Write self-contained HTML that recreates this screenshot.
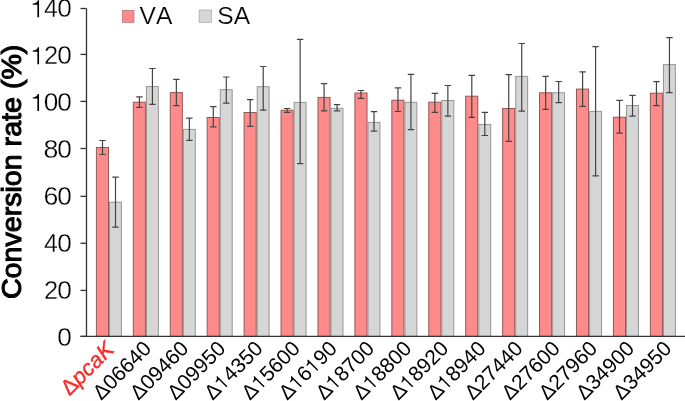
<!DOCTYPE html>
<html><head><meta charset="utf-8"><style>
html,body{margin:0;padding:0;background:#fff;width:685px;height:401px;overflow:hidden}
svg{display:block;will-change:transform}
text{font-family:"Liberation Sans",sans-serif}
.t{font-size:24px;fill:#000;stroke:#fff;stroke-width:0.2px}
.xl{font-size:21px;fill:#000}
.red{fill:#fa2a2a;font-size:22px;stroke:#fa2a2a;stroke-width:0.35px}
.h{fill:none;stroke:none}
.dg{font-size:25px;stroke-width:0.3px;stroke-linejoin:round}
.yt{font-size:28.5px;fill:#000;stroke:#000;stroke-width:1.1px}
</style></head><body>
<svg width="685" height="401" viewBox="0 0 685 401">
<rect x="96.40" y="147.50" width="12.10" height="188.90" fill="#ff8a8a" stroke="#8f5a5a" stroke-width="1"/>
<rect x="109.50" y="202.20" width="11.90" height="134.20" fill="#d6d6d6" stroke="#969696" stroke-width="1"/>
<rect x="133.33" y="102.20" width="12.10" height="234.20" fill="#ff8a8a" stroke="#8f5a5a" stroke-width="1"/>
<rect x="146.43" y="86.60" width="11.90" height="249.80" fill="#d6d6d6" stroke="#969696" stroke-width="1"/>
<rect x="170.26" y="92.60" width="12.10" height="243.80" fill="#ff8a8a" stroke="#8f5a5a" stroke-width="1"/>
<rect x="183.36" y="129.40" width="11.90" height="207.00" fill="#d6d6d6" stroke="#969696" stroke-width="1"/>
<rect x="207.19" y="117.50" width="12.10" height="218.90" fill="#ff8a8a" stroke="#8f5a5a" stroke-width="1"/>
<rect x="220.29" y="89.70" width="11.90" height="246.70" fill="#d6d6d6" stroke="#969696" stroke-width="1"/>
<rect x="244.12" y="112.50" width="12.10" height="223.90" fill="#ff8a8a" stroke="#8f5a5a" stroke-width="1"/>
<rect x="257.22" y="86.70" width="11.90" height="249.70" fill="#d6d6d6" stroke="#969696" stroke-width="1"/>
<rect x="281.05" y="110.20" width="12.10" height="226.20" fill="#ff8a8a" stroke="#8f5a5a" stroke-width="1"/>
<rect x="294.15" y="102.40" width="11.90" height="234.00" fill="#d6d6d6" stroke="#969696" stroke-width="1"/>
<rect x="317.98" y="97.40" width="12.10" height="239.00" fill="#ff8a8a" stroke="#8f5a5a" stroke-width="1"/>
<rect x="331.08" y="108.30" width="11.90" height="228.10" fill="#d6d6d6" stroke="#969696" stroke-width="1"/>
<rect x="354.91" y="93.00" width="12.10" height="243.40" fill="#ff8a8a" stroke="#8f5a5a" stroke-width="1"/>
<rect x="368.01" y="122.40" width="11.90" height="214.00" fill="#d6d6d6" stroke="#969696" stroke-width="1"/>
<rect x="391.84" y="100.20" width="12.10" height="236.20" fill="#ff8a8a" stroke="#8f5a5a" stroke-width="1"/>
<rect x="404.94" y="102.30" width="11.90" height="234.10" fill="#d6d6d6" stroke="#969696" stroke-width="1"/>
<rect x="428.77" y="102.20" width="12.10" height="234.20" fill="#ff8a8a" stroke="#8f5a5a" stroke-width="1"/>
<rect x="441.87" y="100.50" width="11.90" height="235.90" fill="#d6d6d6" stroke="#969696" stroke-width="1"/>
<rect x="465.70" y="96.20" width="12.10" height="240.20" fill="#ff8a8a" stroke="#8f5a5a" stroke-width="1"/>
<rect x="478.80" y="124.50" width="11.90" height="211.90" fill="#d6d6d6" stroke="#969696" stroke-width="1"/>
<rect x="502.63" y="108.50" width="12.10" height="227.90" fill="#ff8a8a" stroke="#8f5a5a" stroke-width="1"/>
<rect x="515.73" y="76.40" width="11.90" height="260.00" fill="#d6d6d6" stroke="#969696" stroke-width="1"/>
<rect x="539.56" y="92.80" width="12.10" height="243.60" fill="#ff8a8a" stroke="#8f5a5a" stroke-width="1"/>
<rect x="552.66" y="92.80" width="11.90" height="243.60" fill="#d6d6d6" stroke="#969696" stroke-width="1"/>
<rect x="576.49" y="89.10" width="12.10" height="247.30" fill="#ff8a8a" stroke="#8f5a5a" stroke-width="1"/>
<rect x="589.59" y="111.40" width="11.90" height="225.00" fill="#d6d6d6" stroke="#969696" stroke-width="1"/>
<rect x="613.42" y="117.20" width="12.10" height="219.20" fill="#ff8a8a" stroke="#8f5a5a" stroke-width="1"/>
<rect x="626.52" y="105.50" width="11.90" height="230.90" fill="#d6d6d6" stroke="#969696" stroke-width="1"/>
<rect x="650.35" y="93.20" width="12.10" height="243.20" fill="#ff8a8a" stroke="#8f5a5a" stroke-width="1"/>
<rect x="663.45" y="64.60" width="11.90" height="271.80" fill="#d6d6d6" stroke="#969696" stroke-width="1"/>
<path d="M102.50 140.50V154.50M99.30 140.50H105.70M99.30 154.50H105.70" stroke="#444" stroke-width="1.2" fill="none"/>
<path d="M115.50 177.20V227.20M112.30 177.20H118.70M112.30 227.20H118.70" stroke="#444" stroke-width="1.2" fill="none"/>
<path d="M139.43 96.80V107.40M136.23 96.80H142.63M136.23 107.40H142.63" stroke="#444" stroke-width="1.2" fill="none"/>
<path d="M152.43 68.50V104.40M149.23 68.50H155.63M149.23 104.40H155.63" stroke="#444" stroke-width="1.2" fill="none"/>
<path d="M176.36 79.40V105.60M173.16 79.40H179.56M173.16 105.60H179.56" stroke="#444" stroke-width="1.2" fill="none"/>
<path d="M189.36 118.20V140.40M186.16 118.20H192.56M186.16 140.40H192.56" stroke="#444" stroke-width="1.2" fill="none"/>
<path d="M213.29 106.70V126.80M210.09 106.70H216.49M210.09 126.80H216.49" stroke="#444" stroke-width="1.2" fill="none"/>
<path d="M226.29 77.00V103.20M223.09 77.00H229.49M223.09 103.20H229.49" stroke="#444" stroke-width="1.2" fill="none"/>
<path d="M250.22 99.60V126.40M247.02 99.60H253.42M247.02 126.40H253.42" stroke="#444" stroke-width="1.2" fill="none"/>
<path d="M263.22 66.50V110.10M260.02 66.50H266.42M260.02 110.10H266.42" stroke="#444" stroke-width="1.2" fill="none"/>
<path d="M287.15 108.50V112.30M283.95 108.50H290.35M283.95 112.30H290.35" stroke="#444" stroke-width="1.2" fill="none"/>
<path d="M300.15 39.40V163.60M296.95 39.40H303.35M296.95 163.60H303.35" stroke="#444" stroke-width="1.2" fill="none"/>
<path d="M324.08 83.70V110.90M320.88 83.70H327.28M320.88 110.90H327.28" stroke="#444" stroke-width="1.2" fill="none"/>
<path d="M337.08 104.70V110.90M333.88 104.70H340.28M333.88 110.90H340.28" stroke="#444" stroke-width="1.2" fill="none"/>
<path d="M361.01 90.50V98.40M357.81 90.50H364.21M357.81 98.40H364.21" stroke="#444" stroke-width="1.2" fill="none"/>
<path d="M374.01 111.60V131.10M370.81 111.60H377.21M370.81 131.10H377.21" stroke="#444" stroke-width="1.2" fill="none"/>
<path d="M397.94 87.90V111.50M394.74 87.90H401.14M394.74 111.50H401.14" stroke="#444" stroke-width="1.2" fill="none"/>
<path d="M410.94 74.40V129.60M407.74 74.40H414.14M407.74 129.60H414.14" stroke="#444" stroke-width="1.2" fill="none"/>
<path d="M434.87 93.40V112.40M431.67 93.40H438.07M431.67 112.40H438.07" stroke="#444" stroke-width="1.2" fill="none"/>
<path d="M447.87 85.50V116.10M444.67 85.50H451.07M444.67 116.10H451.07" stroke="#444" stroke-width="1.2" fill="none"/>
<path d="M471.80 75.40V117.30M468.60 75.40H475.00M468.60 117.30H475.00" stroke="#444" stroke-width="1.2" fill="none"/>
<path d="M484.80 112.40V135.50M481.60 112.40H488.00M481.60 135.50H488.00" stroke="#444" stroke-width="1.2" fill="none"/>
<path d="M508.73 74.70V141.40M505.53 74.70H511.93M505.53 141.40H511.93" stroke="#444" stroke-width="1.2" fill="none"/>
<path d="M521.73 43.50V111.20M518.53 43.50H524.93M518.53 111.20H524.93" stroke="#444" stroke-width="1.2" fill="none"/>
<path d="M545.66 76.40V109.40M542.46 76.40H548.86M542.46 109.40H548.86" stroke="#444" stroke-width="1.2" fill="none"/>
<path d="M558.66 81.50V102.60M555.46 81.50H561.86M555.46 102.60H561.86" stroke="#444" stroke-width="1.2" fill="none"/>
<path d="M582.59 71.80V106.40M579.39 71.80H585.79M579.39 106.40H585.79" stroke="#444" stroke-width="1.2" fill="none"/>
<path d="M595.59 46.70V175.80M592.39 46.70H598.79M592.39 175.80H598.79" stroke="#444" stroke-width="1.2" fill="none"/>
<path d="M619.52 100.30V133.20M616.32 100.30H622.72M616.32 133.20H622.72" stroke="#444" stroke-width="1.2" fill="none"/>
<path d="M632.52 95.30V116.20M629.32 95.30H635.72M629.32 116.20H635.72" stroke="#444" stroke-width="1.2" fill="none"/>
<path d="M656.45 81.60V105.60M653.25 81.60H659.65M653.25 105.60H659.65" stroke="#444" stroke-width="1.2" fill="none"/>
<path d="M669.45 37.60V92.60M666.25 37.60H672.65M666.25 92.60H672.65" stroke="#444" stroke-width="1.2" fill="none"/>
<path d="M86.5 8.5V336.4M80.5 336.4H685" stroke="#333" stroke-width="1.3" fill="none"/>
<path d="M80.5 8.5H86.5" stroke="#333" stroke-width="1.3"/>
<path transform="translate(31.150,17.3) scale(25,-25)" d="M.316 0V.684H.268C.25 .625 .19 .553 .065 .548V.50H.249V0Z" fill="#000"/>
<text x="0" y="17.3" text-anchor="middle" class="t dg" transform="translate(51.00,0) scale(1.0,1)">4</text>
<text x="0" y="17.3" text-anchor="middle" class="t dg" transform="translate(64.45,0) scale(1.05,1)">0</text>
<path d="M80.5 54.4H86.5" stroke="#333" stroke-width="1.3"/>
<path transform="translate(31.150,64.3) scale(25,-25)" d="M.316 0V.684H.268C.25 .625 .19 .553 .065 .548V.50H.249V0Z" fill="#000"/>
<text x="0" y="64.3" text-anchor="middle" class="t dg" transform="translate(51.00,0) scale(1.02,1)">2</text>
<text x="0" y="64.3" text-anchor="middle" class="t dg" transform="translate(64.45,0) scale(1.05,1)">0</text>
<path d="M80.5 101.4H86.5" stroke="#333" stroke-width="1.3"/>
<path transform="translate(31.150,111.1) scale(25,-25)" d="M.316 0V.684H.268C.25 .625 .19 .553 .065 .548V.50H.249V0Z" fill="#000"/>
<text x="0" y="111.1" text-anchor="middle" class="t dg" transform="translate(51.00,0) scale(1.05,1)">0</text>
<text x="0" y="111.1" text-anchor="middle" class="t dg" transform="translate(64.45,0) scale(1.05,1)">0</text>
<path d="M80.5 148.5H86.5" stroke="#333" stroke-width="1.3"/>
<text x="0" y="158.1" text-anchor="middle" class="t dg" transform="translate(51.00,0) scale(1.07,1)">8</text>
<text x="0" y="158.1" text-anchor="middle" class="t dg" transform="translate(64.45,0) scale(1.05,1)">0</text>
<path d="M80.5 196.35H86.5" stroke="#333" stroke-width="1.3"/>
<text x="0" y="205.1" text-anchor="middle" class="t dg" transform="translate(51.00,0) scale(1.07,1)">6</text>
<text x="0" y="205.1" text-anchor="middle" class="t dg" transform="translate(64.45,0) scale(1.05,1)">0</text>
<path d="M80.5 243.25H86.5" stroke="#333" stroke-width="1.3"/>
<text x="0" y="251.7" text-anchor="middle" class="t dg" transform="translate(51.00,0) scale(1.0,1)">4</text>
<text x="0" y="251.7" text-anchor="middle" class="t dg" transform="translate(64.45,0) scale(1.05,1)">0</text>
<path d="M80.5 290.4H86.5" stroke="#333" stroke-width="1.3"/>
<text x="0" y="298.7" text-anchor="middle" class="t dg" transform="translate(51.00,0) scale(1.02,1)">2</text>
<text x="0" y="298.7" text-anchor="middle" class="t dg" transform="translate(64.45,0) scale(1.05,1)">0</text>
<path d="M80.5 336.4H86.5" stroke="#333" stroke-width="1.3"/>
<text x="0" y="346.0" text-anchor="middle" class="t dg" transform="translate(64.45,0) scale(1.05,1)">0</text>
<text transform="translate(20.5,299.1) rotate(-90)" class="yt" textLength="254.5" lengthAdjust="spacingAndGlyphs">Conversion rate (%)</text>
<rect x="122.4" y="10.3" width="11.6" height="12.1" fill="#ff8a8a" stroke="#a06a6a" stroke-width="0.6"/>
<text x="139.5" y="24.4" class="t" style="font-kerning:none;font-size:24.6px">VA</text>
<rect x="199.1" y="10.0" width="12.3" height="12.6" fill="#d6d6d6" stroke="#9a9a9a" stroke-width="0.6"/>
<text x="217.3" y="24.4" class="t" style="font-kerning:none;font-size:24.6px">SA</text>
<text transform="translate(69.40,396.60) rotate(-45)" class="xl red"><tspan>Δ</tspan><tspan font-style="italic">pcaK</tspan></text>
<text transform="translate(101.35,400.90) rotate(-45)" class="xl">Δ06640</text>
<text transform="translate(138.51,400.90) rotate(-45)" class="xl">Δ09460</text>
<text transform="translate(175.66,400.90) rotate(-45)" class="xl">Δ09950</text>
<g transform="translate(212.82,400.90) rotate(-45)"><text class="xl">Δ<tspan class="h">1</tspan>4350</text><path transform="translate(14.027,0) scale(21,-21)" d="M.316 0V.69H.268C.25 .63 .19 .558 .065 .552V.508H.249V0Z" fill="#000"/></g>
<g transform="translate(249.98,400.90) rotate(-45)"><text class="xl">Δ<tspan class="h">1</tspan>5600</text><path transform="translate(14.027,0) scale(21,-21)" d="M.316 0V.69H.268C.25 .63 .19 .558 .065 .552V.508H.249V0Z" fill="#000"/></g>
<g transform="translate(287.13,400.90) rotate(-45)"><text class="xl">Δ<tspan class="h">1</tspan>6<tspan class="h">1</tspan>90</text><path transform="translate(14.027,0) scale(21,-21)" d="M.316 0V.69H.268C.25 .63 .19 .558 .065 .552V.508H.249V0Z" fill="#000"/><path transform="translate(37.386,0) scale(21,-21)" d="M.316 0V.69H.268C.25 .63 .19 .558 .065 .552V.508H.249V0Z" fill="#000"/></g>
<g transform="translate(324.29,400.90) rotate(-45)"><text class="xl">Δ<tspan class="h">1</tspan>8700</text><path transform="translate(14.027,0) scale(21,-21)" d="M.316 0V.69H.268C.25 .63 .19 .558 .065 .552V.508H.249V0Z" fill="#000"/></g>
<g transform="translate(361.45,400.90) rotate(-45)"><text class="xl">Δ<tspan class="h">1</tspan>8800</text><path transform="translate(14.027,0) scale(21,-21)" d="M.316 0V.69H.268C.25 .63 .19 .558 .065 .552V.508H.249V0Z" fill="#000"/></g>
<g transform="translate(398.61,400.90) rotate(-45)"><text class="xl">Δ<tspan class="h">1</tspan>8920</text><path transform="translate(14.027,0) scale(21,-21)" d="M.316 0V.69H.268C.25 .63 .19 .558 .065 .552V.508H.249V0Z" fill="#000"/></g>
<g transform="translate(435.76,400.90) rotate(-45)"><text class="xl">Δ<tspan class="h">1</tspan>8940</text><path transform="translate(14.027,0) scale(21,-21)" d="M.316 0V.69H.268C.25 .63 .19 .558 .065 .552V.508H.249V0Z" fill="#000"/></g>
<text transform="translate(472.92,400.90) rotate(-45)" class="xl">Δ27440</text>
<text transform="translate(510.08,400.90) rotate(-45)" class="xl">Δ27600</text>
<text transform="translate(547.23,400.90) rotate(-45)" class="xl">Δ27960</text>
<text transform="translate(584.39,400.90) rotate(-45)" class="xl">Δ34900</text>
<text transform="translate(621.55,400.90) rotate(-45)" class="xl">Δ34950</text>
</svg>
</body></html>
